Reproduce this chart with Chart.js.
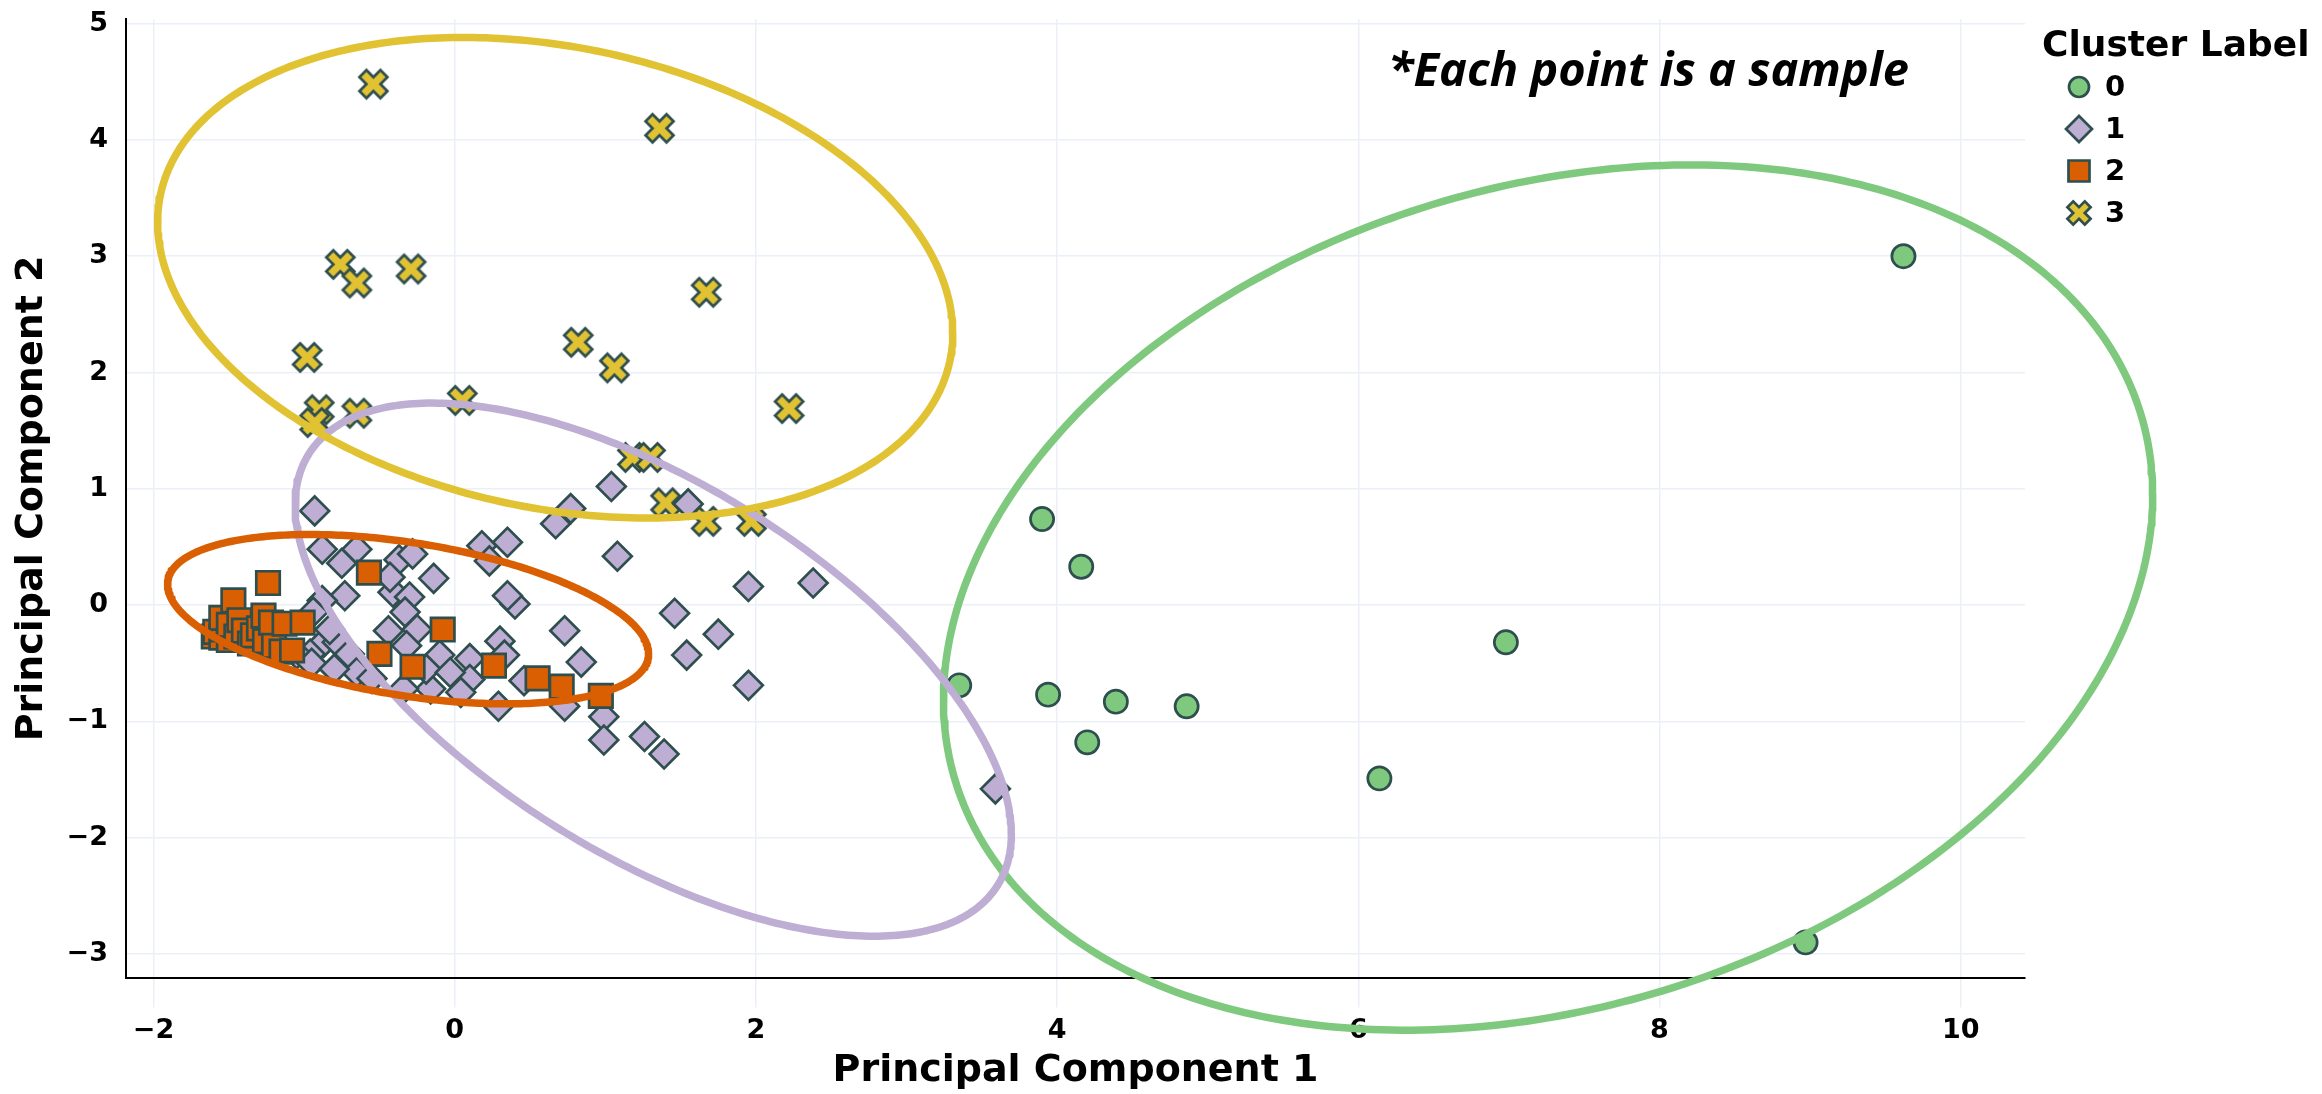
<!DOCTYPE html>
<html>
<head>
<meta charset="utf-8">
<title>PCA clusters</title>
<script src="https://cdn.jsdelivr.net/npm/chart.js@4.4.1/dist/chart.umd.min.js"></script>
<style>
  html, body { margin: 0; padding: 0; background: #ffffff; overflow: hidden; }
  #wrap { width: 2322px; height: 1094px; position: relative; }
</style>
</head>
<body>
<div id="wrap"><canvas id="pca" width="2322" height="1094"></canvas></div>
<script>
// ---- samples projected on the first two principal components, per cluster ----
const CLUSTER_LABELS = ['0', '1', '2', '3'];

const CLUSTER_0 = [
  [3.35, -0.69], [3.90, 0.74], [3.94, -0.77], [4.16, 0.33], [4.20, -1.18],
  [4.39, -0.83], [4.86, -0.87], [6.14, -1.49], [6.98, -0.32], [8.97, -2.90],
  [9.62, 3.00]
];

const CLUSTER_1 = [
  [-0.93, 0.81], [1.04, 1.02], [0.77, 0.83], [0.67, 0.70], [1.55, 0.87],
  [0.18, 0.51], [0.35, 0.54], [0.23, 0.38], [1.08, 0.42], [1.95, 0.16],
  [2.38, 0.19], [1.46, -0.07], [1.75, -0.25], [1.54, -0.43], [1.95, -0.69],
  [0.73, -0.22], [0.84, -0.49], [0.40, 0.01], [0.35, 0.08], [-0.14, 0.23],
  [0.30, -0.31], [0.33, -0.43], [0.10, -0.46], [-0.10, -0.43], [0.10, -0.64],
  [-0.16, -0.72], [0.29, -0.87], [0.46, -0.65], [0.73, -0.87], [0.99, -0.96],
  [0.99, -1.16], [1.26, -1.13], [1.39, -1.28], [3.59, -1.58],
  [-0.88, 0.48], [-0.75, 0.36], [-0.65, 0.48], [-0.73, 0.08], [-0.88, 0.04],
  [-0.37, 0.39], [-0.28, 0.44], [-0.41, 0.11], [-0.30, 0.07], [-0.33, -0.06],
  [-0.44, -0.22], [-0.25, -0.21], [-0.32, -0.35], [-0.19, -0.55],
  [-0.87, -0.32], [-0.94, -0.06], [-0.96, -0.42], [-0.78, -0.32], [-0.70, -0.42],
  [-0.65, -0.58], [-0.55, -0.63], [-0.34, -0.72], [-0.03, -0.58], [0.04, -0.75],
  [-0.83, -0.21], [-1.05, -0.42], [-0.43, 0.24], [-0.95, -0.50], [-0.80, -0.55]
];

const CLUSTER_2 = [
  [-1.60, -0.27], [-1.59, -0.23], [-1.55, -0.28], [-1.54, -0.21], [-1.55, -0.11],
  [-1.50, -0.30], [-1.50, -0.17], [-1.47, 0.04], [-1.45, -0.27], [-1.43, -0.13],
  [-1.40, -0.22], [-1.36, -0.33], [-1.34, -0.26], [-1.30, -0.20], [-1.27, -0.09],
  [-1.26, -0.31], [-1.22, -0.15], [-1.24, 0.19], [-1.20, -0.35], [-1.15, -0.40],
  [-1.13, -0.16], [-1.08, -0.39], [-1.01, -0.15], [-0.57, 0.28], [-0.50, -0.42],
  [-0.28, -0.53], [-0.08, -0.21], [0.26, -0.52], [0.55, -0.63], [0.71, -0.70],
  [0.97, -0.78]
];

const CLUSTER_3 = [
  [-0.54, 4.48], [1.36, 4.10], [-0.76, 2.93], [-0.65, 2.77], [-0.29, 2.89],
  [1.67, 2.69], [-0.98, 2.13], [0.82, 2.26], [1.06, 2.04], [2.22, 1.69],
  [0.05, 1.76], [-0.90, 1.68], [-0.93, 1.57], [-0.65, 1.65], [1.18, 1.27],
  [1.30, 1.27], [1.40, 0.88], [1.67, 0.72], [1.97, 0.72]
];

// confidence ellipse per cluster: [centre x, centre y, half-width, half-height, correlation]
const ELLIPSE_0 = [7.26, 0.065, 4.015, 3.72, 0.237];
const ELLIPSE_1 = [1.318, -0.555, 2.378, 2.292, -0.617];
const ELLIPSE_2 = [-0.31, -0.121, 1.597, 0.728, -0.408];
const ELLIPSE_3 = [0.667, 2.815, 2.64, 2.066, -0.231];

const X_TICKS = [-2, 0, 2, 4, 6, 8, 10];
const X_TICK_LABELS = ['\u22122', '0', '2', '4', '6', '8', '10'];
const Y_TICKS = [-3, -2, -1, 0, 1, 2, 3, 4, 5];
const Y_TICK_LABELS = ['\u22123', '\u22122', '\u22121', '0', '1', '2', '3', '4', '5'];

// ---- styling ----
const COLORS = ['#7FC97F', '#BEAED4', '#D95F02', '#E1C233'];
const EDGE = '#2F4F4F';
const EDGE_W = 2.7;
const GRID = '#EBF0F8';
const FONT = 'DejaVu Sans';

// filled "x" marker with outline (same outline as the other symbols)
function crossSprite(rx, fill, stroke, lw) {
  const size = Math.ceil(4 * rx + lw + 6);
  const c = document.createElement('canvas');
  c.width = size; c.height = size;
  const g = c.getContext('2d');
  g.translate(size / 2, size / 2);
  crossPath(g, rx);
  g.fillStyle = fill; g.fill();
  g.lineWidth = lw; g.strokeStyle = stroke; g.lineJoin = 'miter'; g.stroke();
  return c;
}
function crossPath(g, r) {
  const p = [[0, r], [r, 2 * r], [2 * r, r], [r, 0], [2 * r, -r], [r, -2 * r],
             [0, -r], [-r, -2 * r], [-2 * r, -r], [-r, 0], [-2 * r, r], [-r, 2 * r]];
  g.beginPath();
  g.moveTo(p[0][0], p[0][1]);
  for (let i = 1; i < p.length; i++) g.lineTo(p[i][0], p[i][1]);
  g.closePath();
}

const crossMarker = crossSprite(7.0, COLORS[3], EDGE, EDGE_W);

function toPoints(arr) { return arr.map(([x, y]) => ({ x, y })); }

// outline of a correlated-gaussian ellipse, traced in data units
function ellipseOutline([cx, cy, sx, sy, rho], steps) {
  const k = Math.sqrt(1 - rho * rho);
  const pts = [];
  for (let i = 0; i <= steps; i++) {
    const t = (i / steps) * Math.PI * 2;
    pts.push({ x: cx + sx * Math.cos(t), y: cy + sy * (rho * Math.cos(t) + k * Math.sin(t)) });
  }
  return pts;
}

const MARKERS = [
  { pointStyle: 'circle', radius: 11.6 },
  { pointStyle: 'rectRot', radius: 14.4 },
  { pointStyle: 'rect', radius: 16.6 },
  { pointStyle: crossMarker, radius: 12 }
];

function pointSet(idx, data, order) {
  const m = MARKERS[idx];
  return {
    label: CLUSTER_LABELS[idx],
    data: toPoints(data),
    showLine: false,
    pointStyle: m.pointStyle,
    pointRadius: m.radius,
    pointHoverRadius: m.radius,
    backgroundColor: COLORS[idx],
    borderColor: EDGE,
    borderWidth: EDGE_W,
    order: order
  };
}
function ellipseSet(idx, params, order) {
  return {
    label: 'ellipse ' + CLUSTER_LABELS[idx],
    data: ellipseOutline(params, 360),
    showLine: true,
    pointRadius: 0,
    pointHoverRadius: 0,
    borderColor: COLORS[idx],
    borderWidth: 7.5,
    borderJoinStyle: 'round',
    borderCapStyle: 'round',
    fill: false,
    tension: 0,
    clip: false,
    order: order
  };
}

// legend block on the right
const legendBox = {
  id: 'clusterLegend',
  afterDraw(chart) {
    const ctx = chart.ctx;
    ctx.save();
    ctx.fillStyle = '#000';
    ctx.textBaseline = 'middle';
    ctx.textAlign = 'left';
    ctx.font = 'bold 36px "' + FONT + '"';
    ctx.fillText('Cluster Label', 2042, 47);
    const rows = [87, 129, 171, 213];
    const mx = 2079;
    CLUSTER_LABELS.forEach((lab, i) => {
      const y = rows[i];
      ctx.save();
      ctx.translate(mx, y);
      ctx.fillStyle = COLORS[i];
      ctx.strokeStyle = EDGE;
      ctx.lineWidth = EDGE_W;
      ctx.beginPath();
      if (i === 0) ctx.arc(0, 0, 10, 0, Math.PI * 2);
      else if (i === 1) { ctx.moveTo(0, -13); ctx.lineTo(13, 0); ctx.lineTo(0, 13); ctx.lineTo(-13, 0); ctx.closePath(); }
      else if (i === 2) ctx.rect(-10.5, -10.5, 21, 21);
      else crossPath(ctx, 5.8);
      ctx.fill(); ctx.stroke();
      ctx.restore();
      ctx.fillStyle = '#000';
      ctx.font = 'bold 29px "' + FONT + '"';
      ctx.fillText(lab, 2105, y + 1);
    });
    ctx.restore();
  }
};

// note in the upper right of the plot
const noteText = {
  id: 'noteText',
  afterDraw(chart) {
    const ctx = chart.ctx;
    ctx.save();
    ctx.fillStyle = '#000';
    ctx.textBaseline = 'alphabetic';
    ctx.textAlign = 'left';
    ctx.font = 'italic bold 47px "Open Sans"';
    ctx.fillText('*Each point is a sample', 1388, 86);
    ctx.restore();
  }
};

new Chart(document.getElementById('pca'), {
  type: 'scatter',
  data: {
    datasets: [
      ellipseSet(3, ELLIPSE_3, 0),
      ellipseSet(2, ELLIPSE_2, 1),
      ellipseSet(1, ELLIPSE_1, 2),
      ellipseSet(0, ELLIPSE_0, 3),
      pointSet(2, CLUSTER_2, 10),
      pointSet(1, CLUSTER_1, 11),
      pointSet(3, CLUSTER_3, 12),
      pointSet(0, CLUSTER_0, 13)
    ]
  },
  options: {
    responsive: false,
    animation: false,
    devicePixelRatio: 1,
    events: [],
    layout: { padding: { left: 0, right: 297, top: 12.7, bottom: 0 } },
    plugins: { legend: { display: false }, tooltip: { enabled: false } },
    scales: {
      x: {
        type: 'linear',
        min: -2.183,
        max: 10.427,
        afterBuildTicks(s) { s.ticks = X_TICKS.map(v => ({ value: v })); },
        afterFit(s) { s.height = 1094 - 977.5; s.paddingLeft = 0; s.paddingRight = 0; },
        grid: { color: GRID, lineWidth: 1.5, drawTicks: true, tickLength: 30, tickColor: GRID },
        border: { display: true, color: '#000', width: 2 },
        ticks: {
          color: '#000',
          padding: 7,
          font: { family: FONT, weight: 'bold', size: 27 },
          callback: (v, i) => X_TICK_LABELS[i]
        },
        title: {
          display: true,
          text: 'Principal Component 1',
          color: '#000',
          font: { family: FONT, weight: 'bold', size: 38 },
          padding: { top: 0, bottom: 0 }
        }
      },
      y: {
        type: 'linear',
        min: -3.202,
        max: 5.037,
        afterBuildTicks(s) { s.ticks = Y_TICKS.map(v => ({ value: v })); },
        afterFit(s) { s.width = 126; s.paddingTop = 0; s.paddingBottom = 0; },
        grid: { color: GRID, lineWidth: 1.5, drawTicks: false },
        border: { display: true, color: '#000', width: 2 },
        ticks: {
          color: '#000',
          padding: 18,
          font: { family: FONT, weight: 'bold', size: 27 },
          callback: (v, i) => Y_TICK_LABELS[i]
        },
        title: {
          display: true,
          text: 'Principal Component 2',
          color: '#000',
          font: { family: FONT, weight: 'bold', size: 38 },
          padding: { top: 9, bottom: 0 }
        }
      }
    }
  },
  plugins: [legendBox, noteText]
});
</script>
</body>
</html>
